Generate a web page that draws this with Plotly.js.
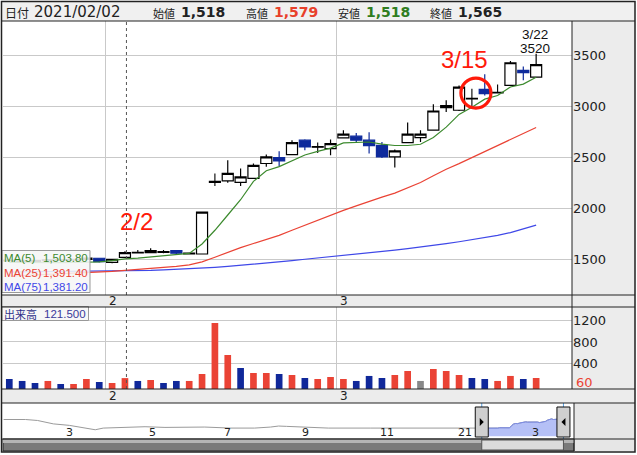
<!DOCTYPE html>
<html><head><meta charset="utf-8">
<script src="https://cdn.plot.ly/plotly-3.0.1.min.js"></script>
<style>html,body{margin:0;padding:0;background:#fff}#c{width:637px;height:455px}</style>
</head><body><div id="c"></div>
<script>
// ---- data ----
const dates = ['1/20','1/21','1/22','1/25','1/26','1/27','1/28','1/29','2/1','2/2','2/3','2/4','2/5','2/8','2/9','2/10','2/12','2/15','2/16','2/17','2/18','2/19','2/22','2/24','2/25','2/26','3/1','3/2','3/3','3/4','3/5','3/8','3/9','3/10','3/11','3/12','3/15','3/16','3/17','3/18','3/19','3/22'];
const opens  = [1490,1484,1476,1487,1496,1490,1499,1510,1470,1518,1563,1565,1568,1584,1560,1552,2266,2271,2255,2294,2441,2500,2529,2670,2608,2588,2692,2709,2670,2620,2506,2647,2695,2768,2990,2964,3082,3169,3141,3209,3355,3290];
const highs  = [1500,1494,1490,1502,1506,1503,1516,1516,1505,1579,1590,1608,1590,1590,1566,1963,2343,2473,2392,2441,2529,2562,2670,2680,2647,2676,2768,2741,2748,2653,2578,2843,2768,3022,3062,3208,3176,3317,3216,3449,3395,3520];
const lows   = [1478,1470,1470,1480,1486,1483,1492,1468,1462,1518,1560,1562,1560,1552,1548,1552,2219,2251,2219,2294,2408,2415,2529,2571,2545,2522,2692,2653,2539,2496,2402,2647,2653,2768,2947,2957,2980,3110,3133,3209,3258,3290];
const closes = [1484,1476,1487,1496,1490,1499,1511,1476,1500,1565,1568,1584,1575,1559,1552,1963,2256,2343,2310,2422,2506,2467,2647,2604,2600,2637,2729,2670,2617,2506,2565,2729,2729,2957,3010,3192,3074,3127,3133,3431,3333,3412];
const ma5  = [1470,1468,1466,1465,1467,1470,1472,1475,1487,1503.8,1512,1524,1536,1548,1558,1650,1785,1935,2085,2265,2370,2410,2470,2525,2560,2592,2644,2650,2652,2632,2618,2618,2630,2697,2798,2923,2993,3073,3109,3193,3221,3288];
const ma25 = [1335,1340,1345,1350,1355,1360,1366,1373,1382,1391.4,1400,1410,1420,1430,1445,1475,1520,1570,1615,1655,1695,1735,1785,1835,1885,1930,1980,2025,2070,2110,2150,2200,2255,2320,2385,2440,2500,2560,2620,2680,2740,2795];
const ma75 = [1375,1376,1376,1377,1378,1378,1379,1380,1380,1381.2,1385,1390,1395,1400,1406,1413,1421,1430,1440,1450,1462,1475,1487,1500,1512,1525,1538,1551,1564,1577,1590,1604,1618,1635,1653,1672,1692,1713,1735,1762,1795,1835];
const volumes = [105,68,30,68,11,11,105,49,30,121.5,68,86,30,68,68,199,1157,556,312,218,218,199,180,124,105,143,105,68,162,124,180,255,68,293,255,180,124,105,68,162,105,124];
const volDir  = [-1,-1,-1,1,-1,1,1,-1,1,1,-1,1,-1,-1,1,1,1,1,-1,1,1,-1,1,-1,1,1,1,-1,-1,-1,1,1,0,1,1,1,-1,-1,1,1,-1,1];
const priceTicks = [1500,2000,2500,3000,3500];
const volTicks = [400,800,1200];
const monthLabels = ['2','3'];
// navigator (long history, trading-day index)
const navIdx   = [0,11,17,25,33,40,46,50,60,71,81,91,101,114,126,134,138,142,153,163,184,204,225,235];
const navPrice = [3075,3075,2896,2270,2000,1500,1195,1500,1625,1750,1625,1690,1690,1500,1500,1690,1876,1815,1625,1500,1500,1500,1375,1500];
const navWindowStart = 240;
const navTickIdx  = [33,74.6,112.3,151.6,192.4,231.7,267];
const navTickText = ['3','5','7','9','11','21','3'];
const cursorIdx = 9;
const header = {date:'2021/02/02', open:'1,518', high:'1,579', low:'1,518', close:'1,565'};
const maLegend = [['MA(5)','1,503.80'],['MA(25)','1,391.40'],['MA(75)','1,381.20']];
const volLegend = ['出来高','121.500'];

// ---- helpers ----
const W=637,H=455;
const px=x=>x/W, py=y=>1-y/H;
const idx = dates.map((d,i)=>i);
const GREEN='#3c8a2e', RED='#ea4335', BLUE='#3f48e8', CBLUE='#0e2a9c';
const DOJI=10;
function pick(cond){
  return {
    open: opens.map((v,i)=>cond(i)?v:null), high: highs.map((v,i)=>cond(i)?v:null),
    low: lows.map((v,i)=>cond(i)?v:null), close: closes.map((v,i)=>cond(i)?v:null)
  };
}
function candle(cond, line, fill, w){
  const p = pick(cond);
  return Object.assign({type:'candlestick', x:idx, xaxis:'x', yaxis:'y', hoverinfo:'skip', whiskerwidth:0,
    increasing:{line:{color:line,width:w},fillcolor:fill}, decreasing:{line:{color:line,width:w},fillcolor:fill}}, p);
}
const traces = [
  {type:'scatter', mode:'lines', x:idx, y:ma75, line:{color:BLUE,width:1.2}, xaxis:'x', yaxis:'y', hoverinfo:'skip'},
  {type:'scatter', mode:'lines', x:idx, y:ma25, line:{color:RED,width:1.2}, xaxis:'x', yaxis:'y', hoverinfo:'skip'},
  candle(i=>closes[i]-opens[i]>DOJI, '#000', '#fff', 1.2),
  candle(i=>opens[i]-closes[i]>DOJI, CBLUE, CBLUE, 1.2),
  candle(i=>Math.abs(closes[i]-opens[i])<=DOJI, '#000', '#000', 1.1),
  {type:'scatter', mode:'lines', x:idx, y:ma5, line:{color:GREEN,width:1.2}, xaxis:'x', yaxis:'y', hoverinfo:'skip'},
];
const volMin = -83;
traces.push({type:'bar', x:idx, y:volumes.map(v=>v-volMin), base:volMin, width:0.52, xaxis:'x2', yaxis:'y2', hoverinfo:'skip',
  marker:{color:volDir.map(d=>d>0?'#ea4335':d<0?'#10289a':'#888888'), line:{width:0}}});
// navigator
const winX = closes.map((c,i)=>navWindowStart+i);
traces.push({type:'scatter', mode:'lines', x:navIdx.concat(winX), y:navPrice.concat(closes), line:{color:'#9a9a9a',width:1}, xaxis:'x3', yaxis:'y3', hoverinfo:'skip'});
traces.push({type:'scatter', mode:'lines', x:winX, y:closes, fill:'tozeroy', fillcolor:'rgba(120,140,238,0.55)', line:{color:'#7b8be6',width:1}, xaxis:'x3', yaxis:'y3', hoverinfo:'skip'});

const FONT='DejaVu Sans, Noto Sans CJK JP, sans-serif';
const NARROW='Liberation Sans, Arial, sans-serif';
const JP='Noto Sans CJK JP, sans-serif';
const ann = [];
function A(o){ann.push(Object.assign({showarrow:false, xref:'paper', yref:'paper', xanchor:'center', yanchor:'middle', font:{family:FONT,size:13,color:'#222'}},o));}
// header
A({x:px(3),y:py(12),xanchor:'left',text:'日付',font:{family:JP,size:12,color:'#222'}});
A({x:px(32),y:py(12),xanchor:'left',text:header.date,font:{family:FONT,size:15,color:'#222'}});
const hdr=[['始値',header.open,'#222',151],['高値',header.high,'#e8402a',244],['安値',header.low,'#2f7d1f',336],['終値',header.close,'#222',428]];
hdr.forEach(h=>{
  A({x:px(h[3]),y:py(12.5),xanchor:'left',text:h[0],font:{family:JP,size:11,color:'#222'}});
  A({x:px(h[3]+28),y:py(12),xanchor:'left',text:'<b>'+h[1]+'</b>',font:{family:FONT,size:14,color:h[2]}});
});
// month labels
[7.5,25.5].forEach((v,k)=>{
  A({x:v,xref:'x',y:py(301),xanchor:'left',xshift:1,text:monthLabels[k],font:{family:FONT,size:12,color:'#222'}});
  A({x:v,xref:'x2',y:py(396),xanchor:'left',xshift:1,text:monthLabels[k],font:{family:FONT,size:12,color:'#222'}});
});
// MA legend box
maLegend.forEach((m,k)=>{
  const c=[GREEN,RED,BLUE][k], yy=[257.5,272.5,287][k];
  A({x:px(2),y:py(yy),xanchor:'left',text:m[0],font:{family:NARROW,size:11.5,color:c}});
  A({x:px(90),y:py(yy),xanchor:'right',text:m[1],font:{family:NARROW,size:11.5,color:c}});
});
A({x:px(2),y:py(313.5),xanchor:'left',text:volLegend[0],font:{family:JP,size:11,color:'#30308a'}});
A({x:px(88),y:py(313.5),xanchor:'right',text:volLegend[1],font:{family:NARROW,size:11.5,color:'#3a3a9a'}});
A({x:px(574),y:py(382),xanchor:'left',text:'60',font:{family:FONT,size:13,color:'#ea4335'}});
// callouts
A({x:9,xref:'x',y:py(221),text:'2/2',xshift:12,font:{family:NARROW,size:24,color:'#ff1a0a'}});
A({x:36,xref:'x',y:py(60),text:'3/15',xshift:-7,font:{family:NARROW,size:24,color:'#ff1a0a'}});
A({x:41,xref:'x',y:py(35),xshift:-1,borderpad:0,text:dates[41],font:{family:NARROW,size:13.5,color:'#111'}});
A({x:41,xref:'x',y:py(48.5),xshift:-1,borderpad:0,text:String(highs[41]),font:{family:NARROW,size:13.5,color:'#111'}});
// navigator labels
navTickIdx.forEach((v,k)=>A({x:v,xref:'x3',y:py(432),text:navTickText[k],font:{family:FONT,size:11,color:'#222'}}));

const shapes=[];
function S(o){shapes.push(Object.assign({xref:'paper',yref:'paper'},o));}
// grey bands
S({type:'rect',x0:px(2),x1:px(635),y0:py(2),y1:py(21),fillcolor:'#f0f0f0',line:{width:0},layer:'below'});
S({type:'rect',x0:px(572),x1:px(635),y0:py(21),y1:py(389),fillcolor:'#ececec',line:{width:0},layer:'below'});
S({type:'rect',x0:px(2),x1:px(635),y0:py(295),y1:py(307),fillcolor:'#ececec',line:{width:0},layer:'below'});
S({type:'rect',x0:px(2),x1:px(635),y0:py(389),y1:py(403),fillcolor:'#ececec',line:{width:0},layer:'below'});
S({type:'rect',x0:px(574),x1:px(635),y0:py(403),y1:py(451),fillcolor:'#e6e6e6',line:{width:0},layer:'below'});
// legend boxes
S({type:'rect',x0:px(2),x1:px(90),y0:py(250.5),y1:py(292.5),fillcolor:'rgba(246,246,246,0.88)',line:{color:'#999',width:1}});
S({type:'rect',x0:px(2),x1:px(88.5),y0:py(306.5),y1:py(320.5),fillcolor:'rgba(246,246,246,0.9)',line:{color:'#999',width:1}});
// cursor line
['y domain','y2 domain'].forEach((yr,k)=>S({type:'line',xref:'x'+(k?'2':''),xsizemode:'pixel',xanchor:cursorIdx,x0:1.5,x1:1.5,yref:yr,y0:0,y1:1,line:{color:'#555',width:1,dash:'dot'}}));
// red circle
S({type:'circle',xref:'x',yref:'y',xsizemode:'pixel',ysizemode:'pixel',xanchor:36,yanchor:closes[36],x0:-11,x1:19,y0:-9,y1:21,line:{color:'#ff1a0a',width:3.2}});
// navigator window lines & handles
[navWindowStart, navWindowStart+dates.length-1].forEach((v,k)=>{
  S({type:'line',xref:'x3',x0:v,x1:v,yref:'paper',y0:py(403),y1:py(439),line:{color:'#5aa0e0',width:1}});
  S({type:'rect',xref:'x3',xsizemode:'pixel',xanchor:v,x0:-6.5,x1:6.5,y0:py(407),y1:py(437),fillcolor:'#cfcfcf',line:{color:'#111',width:1}});
  const d=k?1:-1;
  S({type:'path',xref:'x3',xsizemode:'pixel',xanchor:v,path:`M ${-2*d} ${py(422)} L ${2*d} ${py(418)} L ${2*d} ${py(426)} Z`,fillcolor:'#000',line:{width:0}});
});
// scrollbar
S({type:'rect',x0:px(3),x1:px(574),y0:py(439),y1:py(451),fillcolor:'#7a7a7a',line:{color:'#222',width:1}});
S({type:'rect',x0:px(3),x1:px(574),y0:py(439.5),y1:py(443),fillcolor:'#b5b5b5',line:{width:0}});
S({type:'rect',xref:'x3',x0:navWindowStart,x1:navWindowStart+dates.length-1,y0:py(440),y1:py(450),fillcolor:'#dcdcdc',line:{color:'#555',width:1}});
// separators and frame
[[21,2,635],[295,2,635],[307,2,635],[389,2,635],[403,2,635],[439,2,635]].forEach(s=>S({type:'line',x0:px(s[1]),x1:px(s[2]),y0:py(s[0]),y1:py(s[0]),line:{color:'#222',width:1}}));
S({type:'line',x0:px(572),x1:px(572),y0:py(21),y1:py(389),line:{color:'#222',width:1}});
S({type:'line',x0:px(574),x1:px(574),y0:py(403),y1:py(451),line:{color:'#222',width:1}});
S({type:'rect',x0:px(1.5),x1:px(635),y0:py(1.5),y1:py(452),line:{color:'#222',width:1.5}});

const gx = {showgrid:true, gridcolor:'#c9c9c9', gridwidth:1, zeroline:false, showticklabels:false, ticks:'', tickvals:[7.5,25.5], range:[-0.49,43.79], fixedrange:true, showline:false};
const layout = {
  width:W, height:H, margin:{l:0,r:0,t:0,b:0}, paper_bgcolor:'#fff', plot_bgcolor:'#fff', showlegend:false,
  boxgap:0.14, boxgroupgap:0,
  xaxis:Object.assign({},gx,{domain:[px(3),px(572)],anchor:'y',rangeslider:{visible:false}}),
  yaxis:{domain:[py(295),py(21)],range:[1149,3841],side:'right',anchor:'x',tickvals:priceTicks,gridcolor:'#c9c9c9',zeroline:false,ticks:'',tickfont:{family:FONT,size:13,color:'#222'},fixedrange:true},
  xaxis2:Object.assign({},gx,{domain:[px(3),px(572)],anchor:'y2'}),
  yaxis2:{domain:[py(389),py(307)],range:[volMin,1457],side:'right',anchor:'x2',tickvals:volTicks,gridcolor:'#c9c9c9',zeroline:false,ticks:'',tickfont:{family:FONT,size:13,color:'#222'},fixedrange:true},
  xaxis3:{domain:[px(3),px(574)],range:[-0.3,286.3],anchor:'y3',showgrid:false,zeroline:false,showticklabels:false,ticks:'',fixedrange:true},
  yaxis3:{domain:[py(439),py(403)],range:[-500,6100],anchor:'x3',showgrid:false,zeroline:false,showticklabels:false,ticks:'',fixedrange:true},
  annotations:ann, shapes:shapes
};
Plotly.newPlot('c', traces, layout, {staticPlot:true, displayModeBar:false});
</script></body></html>
